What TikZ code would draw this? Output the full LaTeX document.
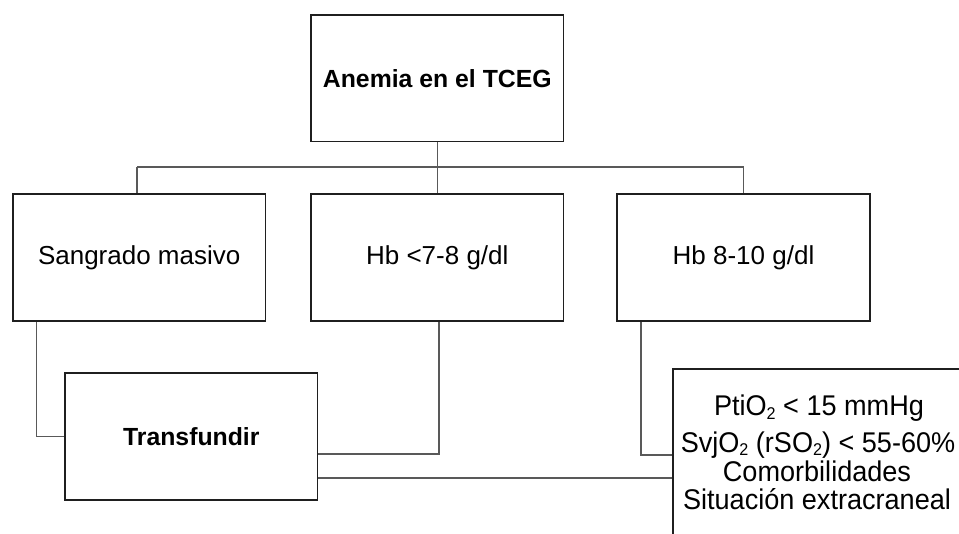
\documentclass[tikz,border=0pt]{standalone}
\usepackage{fontspec}
\setmainfont{Liberation Sans}
\newfontfamily\condfont[FakeStretch=0.95]{Liberation Sans}
\newcommand\subtwo{\raisebox{-0.13em}{\fontsize{17}{17}\selectfont 2}}
\begin{document}
\begin{tikzpicture}[x=1pt,y=-1pt,
  box/.style={draw=black!88,line width=1.6pt,rectangle,inner sep=0pt,
    minimum width=252.7pt,minimum height=127pt,font=\fontsize{26}{31}\selectfont},
  boldbox/.style={box,font=\fontsize{24.8}{30}\selectfont\bfseries},
  conn/.style={draw=black!65,line width=1.4pt},
  crittext/.style={anchor=base,inner sep=0pt,font=\condfont\fontsize{28.5}{30}\selectfont}]
\useasboundingbox (0,0) rectangle (959,534);
\clip (0,0) rectangle (959,534);
\fill[white] (0,0) rectangle (959,534);
% boxes
\node[boldbox,minimum height=126.7pt] (top) at (437.3,78.3) {Anemia en el TCEG};
\node[box] (sang) at (139.2,257.5) {Sangrado masivo};
\node[box] (hba) at (437.3,257.5) {Hb <7-8 g/dl};
\node[box] (hbb) at (743.5,257.5) {Hb 8-10 g/dl};
\node[boldbox] (transf) at (191.3,436.5) {Transfundir};
\node[box,minimum width=340pt,minimum height=240pt] (crit) at (843,489) {};
\node[crittext] (l1) at (819,416) {PtiO\subtwo{} < 15 mmHg};
\node[crittext] (l2) at (818,452.2) {SvjO\subtwo{} (rSO\subtwo) < 55-60\%};
\node[crittext] (l3) at (817,482) {Comorbilidades};
\node[crittext] (l4) at (817,510) {Situación extracraneal};
% tree
\coordinate (bus) at (437.3,167);
\coordinate (busl) at (137,167);
\coordinate (busr) at (743.5,167);
\draw[conn] (top.south) -- (bus);
\draw[conn] (busl) -- (busr);
\draw[conn] (busl) -- (sang.north -| busl);
\draw[conn] (bus) -- (hba.north);
\draw[conn] (busr) -- (hbb.north);
% lower connectors
\coordinate (c1) at (36.7,436.5);
\coordinate (c2) at (439,454);
\coordinate (c3) at (641,455);
\coordinate (c4) at (500,478);
\draw[conn] (sang.south -| c1) -- (c1) -- (transf.west);
\draw[conn] (hba.south -| c2) -- (c2) -- (transf.east |- c2);
\draw[conn] (hbb.south -| c3) -- (c3) -- (crit.west |- c3);
\draw[conn] (transf.east |- c4) -- (crit.west |- c4);
\end{tikzpicture}
\end{document}
